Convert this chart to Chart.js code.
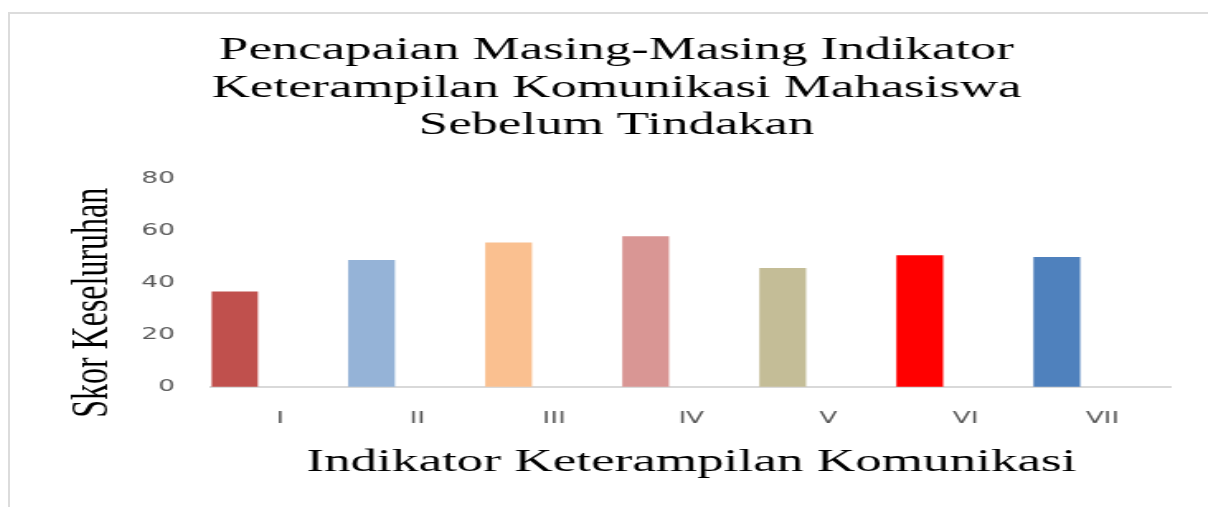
<!DOCTYPE html>
<html>
<head>
<meta charset="utf-8">
<script src="https://cdn.jsdelivr.net/npm/chart.js@4/dist/chart.umd.min.js"></script>
<style>
  html, body { margin: 0; padding: 0; background: #fff; }
  body { width: 1208px; height: 507px; position: relative; overflow: hidden; }
  #frame { position: absolute; left: 8px; top: 12px; width: 1220px; height: 520px; border-top: 2px solid #dcdcdc; border-left: 2px solid #dcdcdc; box-sizing: border-box; }
  #wrap { position: absolute; left: 8px; top: 12px; width: 727px; height: 495px; transform: scaleX(1.6506); transform-origin: 0 0; }
</style>
</head>
<body>
<div id="frame"></div>
<div id="wrap"><canvas id="chart" width="727" height="495"></canvas></div>
<script>
// indikator (sumbu x) dan skor sebelum tindakan
const categories = ['I', 'II', 'III', 'IV', 'V', 'VI', 'VII'];
const scores = [36.5, 48.6, 55.4, 57.8, 45.6, 50.5, 49.8];
const barColors = ['#C0504D', '#95B3D7', '#FAC090', '#D99694', '#C4BD97', '#FF0000', '#4F81BD'];
const titleLines = ['Pencapaian Masing-Masing Indikator', 'Keterampilan Komunikasi Mahasiswa', 'Sebelum Tindakan'];
const yTicks = { min: 0, max: 80, step: 20 };

const serif = 'Liberation Serif, Times New Roman, serif';
const sans = 'DejaVu Sans, Verdana, sans-serif';
const empty = categories.map(() => null);

new Chart(document.getElementById('chart'), {
  type: 'bar',
  data: {
    labels: categories,
    datasets: [
      { label: 'Skor', data: scores, backgroundColor: barColors, borderWidth: 0 },
      { label: '', data: empty },
      { label: '', data: empty },
    ],
  },
  options: {
    responsive: false,
    animation: false,
    events: [],
    categoryPercentage: 1,
    barPercentage: 1,
    layout: { padding: { left: 32.8, right: 22.4, top: 0, bottom: 24.7 } },
    plugins: {
      legend: { display: false },
      tooltip: { enabled: false },
      title: { display: true, text: titleLines, color: '#000', font: { family: serif, size: 32, weight: 'normal', lineHeight: 1.16 }, padding: { top: 20.5, bottom: 35 } },
    },
    scales: {
      x: {
        grid: { display: false, drawTicks: false },
        border: { display: true, color: '#d9d9d9', width: 2 },
        ticks: { color: '#595959', font: { family: sans, size: 16 }, padding: 23 },
        title: { display: true, text: 'Indikator Keterampilan Komunikasi', color: '#000', font: { family: serif, size: 32.2 }, padding: { top: -8.2, bottom: 0 } },
      },
      y: {
        min: yTicks.min, max: yTicks.max,
        grid: { display: false, drawTicks: false },
        border: { display: false },
        ticks: { stepSize: yTicks.step, color: '#595959', font: { family: sans, size: 16 }, padding: 22.2 },
        title: { display: true, text: 'Skor Keseluruhan     ', color: '#000', font: { family: serif, size: 32 }, padding: { top: 0, bottom: -12.6 } },
      },
    },
  },
});
</script>
</body>
</html>
